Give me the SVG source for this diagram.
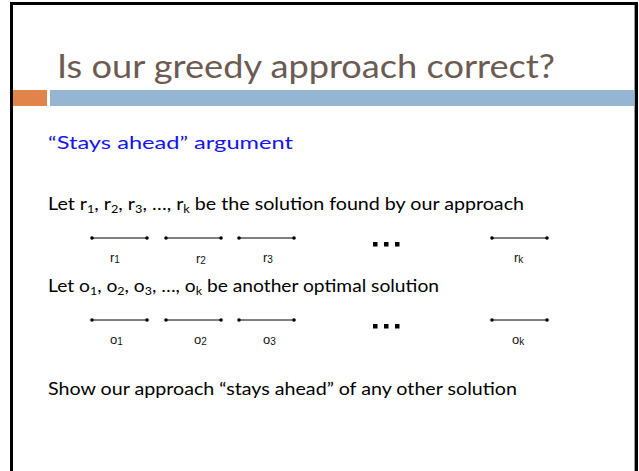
<svg xmlns="http://www.w3.org/2000/svg" width="639" height="471" viewBox="0 0 639 471">
<style>
.body{font-family:Lato,"Open Sans","Liberation Sans",sans-serif;font-size:17px;fill:#000}
.lab{font-family:"Liberation Sans",Arial,sans-serif;font-size:13px;fill:#111}
.seg{stroke:#000;stroke-width:1}
.dot{fill:#000}
</style>
<rect x="0" y="0" width="639" height="471" fill="#fff"/>
<g id="frame">
<path d="M11.5 480 V3.5 H636.5 V480" fill="none" stroke="#000" stroke-width="3"/>
<line x1="634.5" y1="5" x2="634.5" y2="471" stroke="#999" stroke-width="1"/>
</g>
<g id="title">
<text x="57" y="78" font-family="Lato,'Open Sans',sans-serif" font-size="32" fill="#6C5B52" textLength="498" lengthAdjust="spacingAndGlyphs">Is our greedy approach correct?</text>
<rect x="13" y="90" width="34" height="16" fill="#E0844A"/>
<rect x="50" y="90" width="584" height="16" fill="#94B6D2"/>
</g>
<g id="heading">
<text x="48" y="149" class="body" font-size="18" style="fill:#1414F0" textLength="245" lengthAdjust="spacingAndGlyphs">“Stays ahead” argument</text>
</g>
<g id="line1">
<text x="48" y="210" class="body" textLength="476" lengthAdjust="spacingAndGlyphs">Let r<tspan font-size="11" dy="3">1</tspan><tspan dy="-3">, r</tspan><tspan font-size="11" dy="3">2</tspan><tspan dy="-3">, r</tspan><tspan font-size="11" dy="3">3</tspan><tspan dy="-3">, …, r</tspan><tspan font-size="11" dy="3">k</tspan><tspan dy="-3"> be the solution found by our approach</tspan></text>
</g>
<g id="connectors">
<g id="r1"><line class="seg" x1="92" y1="238" x2="147" y2="238"/><circle class="dot" cx="92" cy="238" r="1.8"/><circle class="dot" cx="147" cy="238" r="1.8"/><text class="lab" x="110" y="262">r<tspan font-size="10" dy="1">1</tspan></text></g>
<g id="r2"><line class="seg" x1="166" y1="238" x2="221" y2="238"/><circle class="dot" cx="166" cy="238" r="1.8"/><circle class="dot" cx="221" cy="238" r="1.8"/><text class="lab" x="196" y="263">r<tspan font-size="10" dy="1">2</tspan></text></g>
<g id="r3"><line class="seg" x1="239" y1="238" x2="294" y2="238"/><circle class="dot" cx="239" cy="238" r="1.8"/><circle class="dot" cx="294" cy="238" r="1.8"/><text class="lab" x="263" y="262">r<tspan font-size="10" dy="1">3</tspan></text></g>
<g id="rk"><line class="seg" x1="492" y1="238" x2="547" y2="238"/><circle class="dot" cx="492" cy="238" r="1.8"/><circle class="dot" cx="547" cy="238" r="1.8"/><text class="lab" x="514" y="262">r<tspan font-size="10" dy="1">k</tspan></text></g>
<g id="o1"><line class="seg" x1="92" y1="320" x2="147" y2="320"/><circle class="dot" cx="92" cy="320" r="1.8"/><circle class="dot" cx="147" cy="320" r="1.8"/><text class="lab" x="110" y="344">o<tspan font-size="10" dy="1">1</tspan></text></g>
<g id="o2"><line class="seg" x1="166" y1="320" x2="221" y2="320"/><circle class="dot" cx="166" cy="320" r="1.8"/><circle class="dot" cx="221" cy="320" r="1.8"/><text class="lab" x="194" y="344">o<tspan font-size="10" dy="1">2</tspan></text></g>
<g id="o3"><line class="seg" x1="239" y1="320" x2="294" y2="320"/><circle class="dot" cx="239" cy="320" r="1.8"/><circle class="dot" cx="294" cy="320" r="1.8"/><text class="lab" x="263" y="344">o<tspan font-size="10" dy="1">3</tspan></text></g>
<g id="ok"><line class="seg" x1="492" y1="320" x2="547" y2="320"/><circle class="dot" cx="492" cy="320" r="1.8"/><circle class="dot" cx="547" cy="320" r="1.8"/><text class="lab" x="512" y="344">o<tspan font-size="10" dy="1">k</tspan></text></g>
</g>
<g id="dots1"><rect class="dot" x="373" y="242" width="4.5" height="4.5"/><rect class="dot" x="384" y="242" width="4.5" height="4.5"/><rect class="dot" x="395" y="242" width="4.5" height="4.5"/></g>
<g id="dots2"><rect class="dot" x="373" y="324" width="4.5" height="4.5"/><rect class="dot" x="384" y="324" width="4.5" height="4.5"/><rect class="dot" x="395" y="324" width="4.5" height="4.5"/></g>
<g id="line2">
<text x="48" y="292" class="body" textLength="391" lengthAdjust="spacingAndGlyphs">Let o<tspan font-size="11" dy="3">1</tspan><tspan dy="-3">, o</tspan><tspan font-size="11" dy="3">2</tspan><tspan dy="-3">, o</tspan><tspan font-size="11" dy="3">3</tspan><tspan dy="-3">, …, o</tspan><tspan font-size="11" dy="3">k</tspan><tspan dy="-3"> be another optimal solution</tspan></text>
</g>
<g id="line3">
<text x="48" y="395" class="body" textLength="469" lengthAdjust="spacingAndGlyphs">Show our approach “stays ahead” of any other solution</text>
</g>
</svg>
